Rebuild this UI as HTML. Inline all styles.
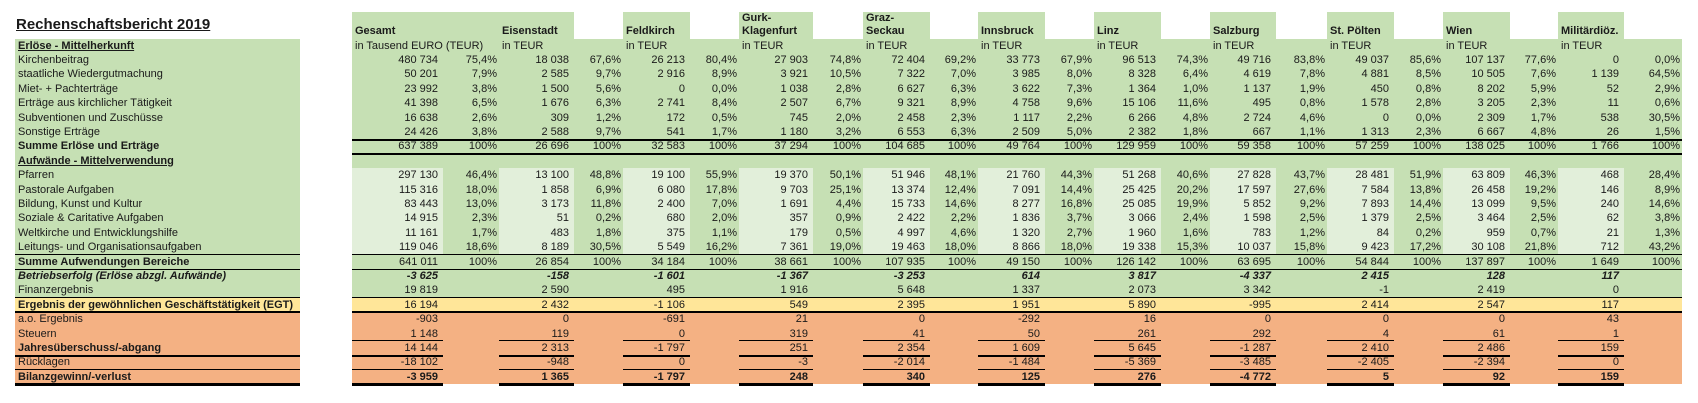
<!DOCTYPE html>
<html><head><meta charset="utf-8"><style>
body{margin:0;background:#fff;width:1698px;height:403px;overflow:hidden;position:relative;font-family:"Liberation Sans",Arial,sans-serif;color:#1a1a1a}
#t{position:absolute;left:15px;top:12px;border-collapse:collapse;border-spacing:0;table-layout:fixed;font-size:11px}
#t td{padding:0;height:14.4px;line-height:14.4px;white-space:nowrap;overflow:visible}
#t tr.h1 td{height:13px;line-height:13px}
#t tr.h2 td{height:13.5px;line-height:13.5px}
td.lab{padding-left:3px!important;overflow:hidden}
td.n{text-align:right;padding-right:5px!important}
td.p{text-align:right;padding-right:2px!important}
td.hd{text-align:left;padding-left:3px!important;font-weight:bold}
td.ht{text-align:left;padding-left:3px!important}
tr.g td{background:#c6e0b4}
tr.lt td{background:#c6e0b4}
tr.lt td.n{background:#e2efda}
tr.y td{background:#ffe699}
tr.o td{background:#f4b183}
#t td.gap{background:#fff}
td.w{background:#fff}
td.gg{background:#c6e0b4}
.b{font-weight:bold}.bi{font-weight:bold;font-style:italic}.u{font-weight:bold;text-decoration:underline}
.ln{position:absolute;background:#000}
#title{position:absolute;z-index:5;left:16px;top:16px;font-size:15px;font-weight:bold;text-decoration:underline;line-height:18px}
</style></head><body>
<table id="t">
<colgroup><col style="width:285px"><col style="width:52px">
<col style="width:91px"><col style="width:56px"><col style="width:75px"><col style="width:49px"><col style="width:67px"><col style="width:49px"><col style="width:74px"><col style="width:50px"><col style="width:67px"><col style="width:48px"><col style="width:67px"><col style="width:49px"><col style="width:67px"><col style="width:49px"><col style="width:66px"><col style="width:51px"><col style="width:67px"><col style="width:49px"><col style="width:67px"><col style="width:48px"><col style="width:66px"><col style="width:58px"></colgroup>
<tr class="h1"><td class="w"></td><td class="gap"></td><td class="gg"></td><td class="gg"></td><td class="gg"></td><td class="w"></td><td class="gg"></td><td class="w"></td><td class="gg hd">Gurk-</td><td class="w"></td><td class="gg hd">Graz-</td><td class="w"></td><td class="gg"></td><td class="w"></td><td class="gg"></td><td class="w"></td><td class="gg"></td><td class="w"></td><td class="gg"></td><td class="w"></td><td class="gg"></td><td class="w"></td><td class="gg"></td><td class="w"></td></tr>
<tr class="h2"><td class="w"></td><td class="gap"></td><td class="gg hd">Gesamt</td><td class="gg"></td><td class="gg hd">Eisenstadt</td><td class="w"></td><td class="gg hd">Feldkirch</td><td class="w"></td><td class="gg hd">Klagenfurt</td><td class="w"></td><td class="gg hd">Seckau</td><td class="w"></td><td class="gg hd">Innsbruck</td><td class="w"></td><td class="gg hd">Linz</td><td class="w"></td><td class="gg hd">Salzburg</td><td class="w"></td><td class="gg hd">St. Pölten</td><td class="w"></td><td class="gg hd">Wien</td><td class="w"></td><td class="gg hd">Militärdiöz.</td><td class="w"></td></tr>
<tr class="g"><td class="lab u">Erlöse - Mittelherkunft</td><td class="gap"></td><td class="ht" colspan="2">in Tausend EURO (TEUR)</td><td class="ht">in TEUR</td><td></td><td class="ht">in TEUR</td><td></td><td class="ht">in TEUR</td><td></td><td class="ht">in TEUR</td><td></td><td class="ht">in TEUR</td><td></td><td class="ht">in TEUR</td><td></td><td class="ht">in TEUR</td><td></td><td class="ht">in TEUR</td><td></td><td class="ht">in TEUR</td><td></td><td class="ht">in TEUR</td><td></td></tr>
<tr class="g"><td class="lab">Kirchenbeitrag</td><td class="gap"></td><td class="n">480 734</td><td class="p">75,4%</td><td class="n">18 038</td><td class="p">67,6%</td><td class="n">26 213</td><td class="p">80,4%</td><td class="n">27 903</td><td class="p">74,8%</td><td class="n">72 404</td><td class="p">69,2%</td><td class="n">33 773</td><td class="p">67,9%</td><td class="n">96 513</td><td class="p">74,3%</td><td class="n">49 716</td><td class="p">83,8%</td><td class="n">49 037</td><td class="p">85,6%</td><td class="n">107 137</td><td class="p">77,6%</td><td class="n">0</td><td class="p">0,0%</td></tr>
<tr class="g"><td class="lab">staatliche Wiedergutmachung</td><td class="gap"></td><td class="n">50 201</td><td class="p">7,9%</td><td class="n">2 585</td><td class="p">9,7%</td><td class="n">2 916</td><td class="p">8,9%</td><td class="n">3 921</td><td class="p">10,5%</td><td class="n">7 322</td><td class="p">7,0%</td><td class="n">3 985</td><td class="p">8,0%</td><td class="n">8 328</td><td class="p">6,4%</td><td class="n">4 619</td><td class="p">7,8%</td><td class="n">4 881</td><td class="p">8,5%</td><td class="n">10 505</td><td class="p">7,6%</td><td class="n">1 139</td><td class="p">64,5%</td></tr>
<tr class="g"><td class="lab">Miet- + Pachterträge</td><td class="gap"></td><td class="n">23 992</td><td class="p">3,8%</td><td class="n">1 500</td><td class="p">5,6%</td><td class="n">0</td><td class="p">0,0%</td><td class="n">1 038</td><td class="p">2,8%</td><td class="n">6 627</td><td class="p">6,3%</td><td class="n">3 622</td><td class="p">7,3%</td><td class="n">1 364</td><td class="p">1,0%</td><td class="n">1 137</td><td class="p">1,9%</td><td class="n">450</td><td class="p">0,8%</td><td class="n">8 202</td><td class="p">5,9%</td><td class="n">52</td><td class="p">2,9%</td></tr>
<tr class="g"><td class="lab">Erträge aus kirchlicher Tätigkeit</td><td class="gap"></td><td class="n">41 398</td><td class="p">6,5%</td><td class="n">1 676</td><td class="p">6,3%</td><td class="n">2 741</td><td class="p">8,4%</td><td class="n">2 507</td><td class="p">6,7%</td><td class="n">9 321</td><td class="p">8,9%</td><td class="n">4 758</td><td class="p">9,6%</td><td class="n">15 106</td><td class="p">11,6%</td><td class="n">495</td><td class="p">0,8%</td><td class="n">1 578</td><td class="p">2,8%</td><td class="n">3 205</td><td class="p">2,3%</td><td class="n">11</td><td class="p">0,6%</td></tr>
<tr class="g"><td class="lab">Subventionen und Zuschüsse</td><td class="gap"></td><td class="n">16 638</td><td class="p">2,6%</td><td class="n">309</td><td class="p">1,2%</td><td class="n">172</td><td class="p">0,5%</td><td class="n">745</td><td class="p">2,0%</td><td class="n">2 458</td><td class="p">2,3%</td><td class="n">1 117</td><td class="p">2,2%</td><td class="n">6 266</td><td class="p">4,8%</td><td class="n">2 724</td><td class="p">4,6%</td><td class="n">0</td><td class="p">0,0%</td><td class="n">2 309</td><td class="p">1,7%</td><td class="n">538</td><td class="p">30,5%</td></tr>
<tr class="g"><td class="lab">Sonstige Erträge</td><td class="gap"></td><td class="n">24 426</td><td class="p">3,8%</td><td class="n">2 588</td><td class="p">9,7%</td><td class="n">541</td><td class="p">1,7%</td><td class="n">1 180</td><td class="p">3,2%</td><td class="n">6 553</td><td class="p">6,3%</td><td class="n">2 509</td><td class="p">5,0%</td><td class="n">2 382</td><td class="p">1,8%</td><td class="n">667</td><td class="p">1,1%</td><td class="n">1 313</td><td class="p">2,3%</td><td class="n">6 667</td><td class="p">4,8%</td><td class="n">26</td><td class="p">1,5%</td></tr>
<tr class="g"><td class="lab b">Summe Erlöse und Erträge</td><td class="gap"></td><td class="n">637 389</td><td class="p">100%</td><td class="n">26 696</td><td class="p">100%</td><td class="n">32 583</td><td class="p">100%</td><td class="n">37 294</td><td class="p">100%</td><td class="n">104 685</td><td class="p">100%</td><td class="n">49 764</td><td class="p">100%</td><td class="n">129 959</td><td class="p">100%</td><td class="n">59 358</td><td class="p">100%</td><td class="n">57 259</td><td class="p">100%</td><td class="n">138 025</td><td class="p">100%</td><td class="n">1 766</td><td class="p">100%</td></tr>
<tr class="g"><td class="lab u">Aufwände - Mittelverwendung</td><td class="gap"></td><td></td><td></td><td></td><td></td><td></td><td></td><td></td><td></td><td></td><td></td><td></td><td></td><td></td><td></td><td></td><td></td><td></td><td></td><td></td><td></td><td></td><td></td></tr>
<tr class="lt"><td class="lab">Pfarren</td><td class="gap"></td><td class="n">297 130</td><td class="p">46,4%</td><td class="n">13 100</td><td class="p">48,8%</td><td class="n">19 100</td><td class="p">55,9%</td><td class="n">19 370</td><td class="p">50,1%</td><td class="n">51 946</td><td class="p">48,1%</td><td class="n">21 760</td><td class="p">44,3%</td><td class="n">51 268</td><td class="p">40,6%</td><td class="n">27 828</td><td class="p">43,7%</td><td class="n">28 481</td><td class="p">51,9%</td><td class="n">63 809</td><td class="p">46,3%</td><td class="n">468</td><td class="p">28,4%</td></tr>
<tr class="lt"><td class="lab">Pastorale Aufgaben</td><td class="gap"></td><td class="n">115 316</td><td class="p">18,0%</td><td class="n">1 858</td><td class="p">6,9%</td><td class="n">6 080</td><td class="p">17,8%</td><td class="n">9 703</td><td class="p">25,1%</td><td class="n">13 374</td><td class="p">12,4%</td><td class="n">7 091</td><td class="p">14,4%</td><td class="n">25 425</td><td class="p">20,2%</td><td class="n">17 597</td><td class="p">27,6%</td><td class="n">7 584</td><td class="p">13,8%</td><td class="n">26 458</td><td class="p">19,2%</td><td class="n">146</td><td class="p">8,9%</td></tr>
<tr class="lt"><td class="lab">Bildung, Kunst und Kultur</td><td class="gap"></td><td class="n">83 443</td><td class="p">13,0%</td><td class="n">3 173</td><td class="p">11,8%</td><td class="n">2 400</td><td class="p">7,0%</td><td class="n">1 691</td><td class="p">4,4%</td><td class="n">15 733</td><td class="p">14,6%</td><td class="n">8 277</td><td class="p">16,8%</td><td class="n">25 085</td><td class="p">19,9%</td><td class="n">5 852</td><td class="p">9,2%</td><td class="n">7 893</td><td class="p">14,4%</td><td class="n">13 099</td><td class="p">9,5%</td><td class="n">240</td><td class="p">14,6%</td></tr>
<tr class="lt"><td class="lab">Soziale &amp; Caritative Aufgaben</td><td class="gap"></td><td class="n">14 915</td><td class="p">2,3%</td><td class="n">51</td><td class="p">0,2%</td><td class="n">680</td><td class="p">2,0%</td><td class="n">357</td><td class="p">0,9%</td><td class="n">2 422</td><td class="p">2,2%</td><td class="n">1 836</td><td class="p">3,7%</td><td class="n">3 066</td><td class="p">2,4%</td><td class="n">1 598</td><td class="p">2,5%</td><td class="n">1 379</td><td class="p">2,5%</td><td class="n">3 464</td><td class="p">2,5%</td><td class="n">62</td><td class="p">3,8%</td></tr>
<tr class="lt"><td class="lab">Weltkirche und Entwicklungshilfe</td><td class="gap"></td><td class="n">11 161</td><td class="p">1,7%</td><td class="n">483</td><td class="p">1,8%</td><td class="n">375</td><td class="p">1,1%</td><td class="n">179</td><td class="p">0,5%</td><td class="n">4 997</td><td class="p">4,6%</td><td class="n">1 320</td><td class="p">2,7%</td><td class="n">1 960</td><td class="p">1,6%</td><td class="n">783</td><td class="p">1,2%</td><td class="n">84</td><td class="p">0,2%</td><td class="n">959</td><td class="p">0,7%</td><td class="n">21</td><td class="p">1,3%</td></tr>
<tr class="lt"><td class="lab">Leitungs- und Organisationsaufgaben</td><td class="gap"></td><td class="n">119 046</td><td class="p">18,6%</td><td class="n">8 189</td><td class="p">30,5%</td><td class="n">5 549</td><td class="p">16,2%</td><td class="n">7 361</td><td class="p">19,0%</td><td class="n">19 463</td><td class="p">18,0%</td><td class="n">8 866</td><td class="p">18,0%</td><td class="n">19 338</td><td class="p">15,3%</td><td class="n">10 037</td><td class="p">15,8%</td><td class="n">9 423</td><td class="p">17,2%</td><td class="n">30 108</td><td class="p">21,8%</td><td class="n">712</td><td class="p">43,2%</td></tr>
<tr class="g"><td class="lab b">Summe Aufwendungen Bereiche</td><td class="gap"></td><td class="n">641 011</td><td class="p">100%</td><td class="n">26 854</td><td class="p">100%</td><td class="n">34 184</td><td class="p">100%</td><td class="n">38 661</td><td class="p">100%</td><td class="n">107 935</td><td class="p">100%</td><td class="n">49 150</td><td class="p">100%</td><td class="n">126 142</td><td class="p">100%</td><td class="n">63 695</td><td class="p">100%</td><td class="n">54 844</td><td class="p">100%</td><td class="n">137 897</td><td class="p">100%</td><td class="n">1 649</td><td class="p">100%</td></tr>
<tr class="g"><td class="lab bi">Betriebserfolg (Erlöse abzgl. Aufwände)</td><td class="gap"></td><td class="n bi">-3 625</td><td></td><td class="n bi">-158</td><td></td><td class="n bi">-1 601</td><td></td><td class="n bi">-1 367</td><td></td><td class="n bi">-3 253</td><td></td><td class="n bi">614</td><td></td><td class="n bi">3 817</td><td></td><td class="n bi">-4 337</td><td></td><td class="n bi">2 415</td><td></td><td class="n bi">128</td><td></td><td class="n bi">117</td><td></td></tr>
<tr class="g"><td class="lab">Finanzergebnis</td><td class="gap"></td><td class="n">19 819</td><td></td><td class="n">2 590</td><td></td><td class="n">495</td><td></td><td class="n">1 916</td><td></td><td class="n">5 648</td><td></td><td class="n">1 337</td><td></td><td class="n">2 073</td><td></td><td class="n">3 342</td><td></td><td class="n">-1</td><td></td><td class="n">2 419</td><td></td><td class="n">0</td><td></td></tr>
<tr class="y"><td class="lab b">Ergebnis der gewöhnlichen Geschäftstätigkeit (EGT)</td><td class="gap"></td><td class="n">16 194</td><td></td><td class="n">2 432</td><td></td><td class="n">-1 106</td><td></td><td class="n">549</td><td></td><td class="n">2 395</td><td></td><td class="n">1 951</td><td></td><td class="n">5 890</td><td></td><td class="n">-995</td><td></td><td class="n">2 414</td><td></td><td class="n">2 547</td><td></td><td class="n">117</td><td></td></tr>
<tr class="o"><td class="lab">a.o. Ergebnis</td><td class="gap"></td><td class="n">-903</td><td></td><td class="n">0</td><td></td><td class="n">-691</td><td></td><td class="n">21</td><td></td><td class="n">0</td><td></td><td class="n">-292</td><td></td><td class="n">16</td><td></td><td class="n">0</td><td></td><td class="n">0</td><td></td><td class="n">0</td><td></td><td class="n">43</td><td></td></tr>
<tr class="o"><td class="lab">Steuern</td><td class="gap"></td><td class="n">1 148</td><td></td><td class="n">119</td><td></td><td class="n">0</td><td></td><td class="n">319</td><td></td><td class="n">41</td><td></td><td class="n">50</td><td></td><td class="n">261</td><td></td><td class="n">292</td><td></td><td class="n">4</td><td></td><td class="n">61</td><td></td><td class="n">1</td><td></td></tr>
<tr class="o"><td class="lab b">Jahresüberschuss/-abgang</td><td class="gap"></td><td class="n">14 144</td><td></td><td class="n">2 313</td><td></td><td class="n">-1 797</td><td></td><td class="n">251</td><td></td><td class="n">2 354</td><td></td><td class="n">1 609</td><td></td><td class="n">5 645</td><td></td><td class="n">-1 287</td><td></td><td class="n">2 410</td><td></td><td class="n">2 486</td><td></td><td class="n">159</td><td></td></tr>
<tr class="o"><td class="lab">Rücklagen</td><td class="gap"></td><td class="n">-18 102</td><td></td><td class="n">-948</td><td></td><td class="n">0</td><td></td><td class="n">-3</td><td></td><td class="n">-2 014</td><td></td><td class="n">-1 484</td><td></td><td class="n">-5 369</td><td></td><td class="n">-3 485</td><td></td><td class="n">-2 405</td><td></td><td class="n">-2 394</td><td></td><td class="n">0</td><td></td></tr>
<tr class="o"><td class="lab b">Bilanzgewinn/-verlust</td><td class="gap"></td><td class="n b">-3 959</td><td></td><td class="n b">1 365</td><td></td><td class="n b">-1 797</td><td></td><td class="n b">248</td><td></td><td class="n b">340</td><td></td><td class="n b">125</td><td></td><td class="n b">276</td><td></td><td class="n b">-4 772</td><td></td><td class="n b">5</td><td></td><td class="n b">92</td><td></td><td class="n b">159</td><td></td></tr>
</table>
<div id="title">Rechenschaftsbericht 2019</div>
<div class="ln" style="left:352px;width:1330px;top:138.5px;height:2px"></div>
<div class="ln" style="left:352px;width:1330px;top:152.5px;height:2px"></div>
<div class="ln" style="left:15px;width:285px;top:254px;height:1px"></div><div class="ln" style="left:352px;width:1330px;top:254px;height:1px"></div>
<div class="ln" style="left:15px;width:285px;top:268.5px;height:1px"></div><div class="ln" style="left:352px;width:1330px;top:268.5px;height:1px"></div>
<div class="ln" style="left:15px;width:285px;top:297px;height:1px"></div><div class="ln" style="left:352px;width:1330px;top:297px;height:1px"></div>
<div class="ln" style="left:15px;width:285px;top:311px;height:2px"></div><div class="ln" style="left:352px;width:1330px;top:311px;height:2px"></div>
<div class="ln" style="left:15px;width:285px;top:354.5px;height:2px"></div>
<div class="ln" style="left:15px;width:285px;top:369px;height:1px"></div>
<div class="ln" style="left:15px;width:285px;top:383px;height:3px"></div>
<div style="position:absolute;left:0;top:0">
<div class="ln" style="left:352px;width:91px;top:340px;height:1px"></div><div class="ln" style="left:499px;width:75px;top:340px;height:1px"></div><div class="ln" style="left:623px;width:67px;top:340px;height:1px"></div><div class="ln" style="left:739px;width:74px;top:340px;height:1px"></div><div class="ln" style="left:863px;width:67px;top:340px;height:1px"></div><div class="ln" style="left:978px;width:67px;top:340px;height:1px"></div><div class="ln" style="left:1094px;width:67px;top:340px;height:1px"></div><div class="ln" style="left:1210px;width:66px;top:340px;height:1px"></div><div class="ln" style="left:1327px;width:67px;top:340px;height:1px"></div><div class="ln" style="left:1443px;width:67px;top:340px;height:1px"></div><div class="ln" style="left:1558px;width:66px;top:340px;height:1px"></div>
<div class="ln" style="left:352px;width:91px;top:354.5px;height:2px"></div><div class="ln" style="left:499px;width:75px;top:354.5px;height:2px"></div><div class="ln" style="left:623px;width:67px;top:354.5px;height:2px"></div><div class="ln" style="left:739px;width:74px;top:354.5px;height:2px"></div><div class="ln" style="left:863px;width:67px;top:354.5px;height:2px"></div><div class="ln" style="left:978px;width:67px;top:354.5px;height:2px"></div><div class="ln" style="left:1094px;width:67px;top:354.5px;height:2px"></div><div class="ln" style="left:1210px;width:66px;top:354.5px;height:2px"></div><div class="ln" style="left:1327px;width:67px;top:354.5px;height:2px"></div><div class="ln" style="left:1443px;width:67px;top:354.5px;height:2px"></div><div class="ln" style="left:1558px;width:66px;top:354.5px;height:2px"></div>
<div class="ln" style="left:352px;width:91px;top:369px;height:1px"></div><div class="ln" style="left:499px;width:75px;top:369px;height:1px"></div><div class="ln" style="left:623px;width:67px;top:369px;height:1px"></div><div class="ln" style="left:739px;width:74px;top:369px;height:1px"></div><div class="ln" style="left:863px;width:67px;top:369px;height:1px"></div><div class="ln" style="left:978px;width:67px;top:369px;height:1px"></div><div class="ln" style="left:1094px;width:67px;top:369px;height:1px"></div><div class="ln" style="left:1210px;width:66px;top:369px;height:1px"></div><div class="ln" style="left:1327px;width:67px;top:369px;height:1px"></div><div class="ln" style="left:1443px;width:67px;top:369px;height:1px"></div><div class="ln" style="left:1558px;width:66px;top:369px;height:1px"></div>
<div class="ln" style="left:352px;width:91px;top:383px;height:3px"></div><div class="ln" style="left:499px;width:75px;top:383px;height:3px"></div><div class="ln" style="left:623px;width:67px;top:383px;height:3px"></div><div class="ln" style="left:739px;width:74px;top:383px;height:3px"></div><div class="ln" style="left:863px;width:67px;top:383px;height:3px"></div><div class="ln" style="left:978px;width:67px;top:383px;height:3px"></div><div class="ln" style="left:1094px;width:67px;top:383px;height:3px"></div><div class="ln" style="left:1210px;width:66px;top:383px;height:3px"></div><div class="ln" style="left:1327px;width:67px;top:383px;height:3px"></div><div class="ln" style="left:1443px;width:67px;top:383px;height:3px"></div><div class="ln" style="left:1558px;width:66px;top:383px;height:3px"></div>
</div>
</body></html>
